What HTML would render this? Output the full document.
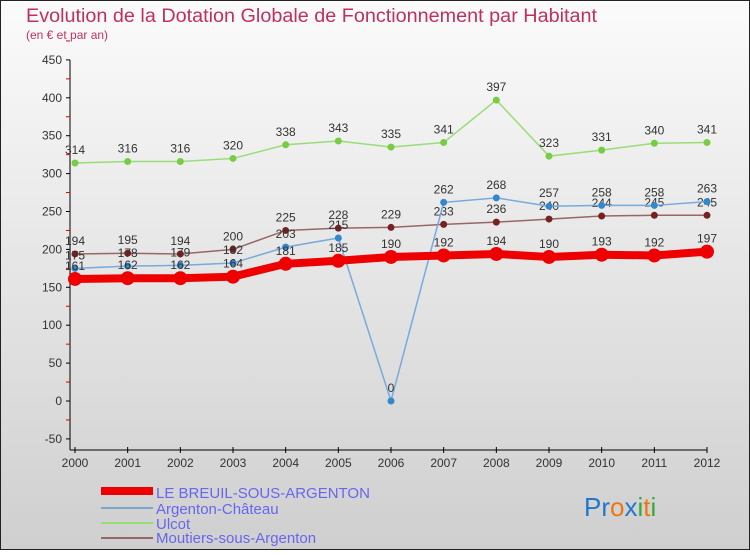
<!DOCTYPE html>
<html><head><meta charset="utf-8"><style>
body{margin:0;width:750px;height:550px;overflow:hidden;font-family:"Liberation Sans",sans-serif}
</style></head><body>
<svg id="c" width="750" height="550" xmlns="http://www.w3.org/2000/svg">
<defs><linearGradient id="bg" x1="0" y1="0" x2="0" y2="1"><stop offset="0" stop-color="#fbfbfb"/><stop offset="1" stop-color="#cfcfcf"/></linearGradient></defs>
<rect x="0.5" y="0.5" width="749" height="549" fill="url(#bg)" stroke="#222"/>
<text x="26" y="22" font-size="19" fill="#c0305f" textLength="571" lengthAdjust="spacingAndGlyphs">Evolution de la Dotation Globale de Fonctionnement par Habitant</text>
<text x="26" y="39" font-size="12" fill="#c0305f">(en € et par an)</text>
<g id="axes"></g><g id="series"></g>
<g>
<rect x="101" y="487" width="52" height="8" fill="#e00"/>
<text x="156" y="498" font-size="15" fill="#6666ee">LE BREUIL-SOUS-ARGENTON</text>
<line x1="101" y1="508" x2="153" y2="508" stroke="#7aa8cc" stroke-width="2"/>
<text x="156" y="514" font-size="15" fill="#6666ee">Argenton-Château</text>
<line x1="101" y1="523" x2="153" y2="523" stroke="#99dd77" stroke-width="2"/>
<text x="156" y="529" font-size="15" fill="#6666ee">Ulcot</text>
<line x1="101" y1="538" x2="153" y2="538" stroke="#996666" stroke-width="2"/>
<text x="156" y="543" font-size="15" fill="#6666ee">Moutiers-sous-Argenton</text>
</g>
<text x="584" y="516" font-size="26"><tspan fill="#2277cc">Pr</tspan><tspan fill="#ee7711">o</tspan><tspan fill="#2277cc">x</tspan><tspan fill="#33aa33">i</tspan><tspan fill="#ee7711">t</tspan><tspan fill="#33aa33">i</tspan></text>
</svg>
<script>
const years=[2000,2001,2002,2003,2004,2005,2006,2007,2008,2009,2010,2011,2012];
const breuil=[161,162,162,164,181,185,190,192,194,190,193,192,197];
const argenton=[175,178,179,182,203,215,0,262,268,257,258,258,263];
const ulcot=[314,316,316,320,338,343,335,341,397,323,331,340,341];
const moutiers=[194,195,194,200,225,228,229,233,236,240,244,245,245];
const yTicks=[-50,0,50,100,150,200,250,300,350,400,450];
const NS="http://www.w3.org/2000/svg";
const X=i=>75+i*(707-75)/(years.length-1);
const Y=v=>401-v*0.758;
function mk(t,a,p){const e=document.createElementNS(NS,t);for(const k in a)e.setAttribute(k,a[k]);p.appendChild(e);return e;}
const ax=document.getElementById('axes');
const yl=mk('line',{x1:70,y1:Y(450),x2:70,y2:450,stroke:'#000'},ax);


const xl=mk('line',{x1:70,y1:450,x2:707,y2:450,stroke:'#000'},ax);


yTicks.forEach(v=>{
 mk('line',{x1:66,y1:Y(v),x2:70,y2:Y(v),stroke:'#000'},ax);
 mk('line',{x1:66,y1:Y(v+25),x2:70,y2:Y(v+25),stroke:'#d00'},ax);
 const t=mk('text',{x:62,y:Y(v)+4,'font-size':12,fill:'#333','text-anchor':'end'},ax);t.textContent=v;
 
 
});
years.forEach((y,i)=>{
 mk('line',{x1:X(i),y1:447,x2:X(i),y2:453,stroke:'#000'},ax);
 const t=mk('text',{x:X(i),y:467,'font-size':12,fill:'#333','text-anchor':'middle'},ax);t.textContent=y;
 
 
});
const sg=document.getElementById('series');
function series(data,color,dot,w,r,name){
 const g=mk('g',{},sg);
 
 
 mk('polyline',{points:data.map((v,i)=>X(i)+','+Y(v)).join(' '),fill:'none',stroke:color,'stroke-width':w},g);
 data.forEach((v,i)=>{
  const c=mk('circle',{cx:X(i),cy:Y(v),r:r,fill:dot},g);
  
  
  const t=mk('text',{x:X(i),y:Y(v)-9,'font-size':12,fill:'#333','text-anchor':'middle'},g);t.textContent=v;
  
  
 });
}
series(ulcot,'#99dd77','#77cc44',1.5,3.5,'ulcot');
series(moutiers,'#996666','#772222',1.5,3.5,'moutiers');
series(argenton,'#77aadd','#3388cc',1.5,3.5,'argenton');
series(breuil,'#ee0000','#ee0000',8,7,'breuil');
</script>
</body></html>
